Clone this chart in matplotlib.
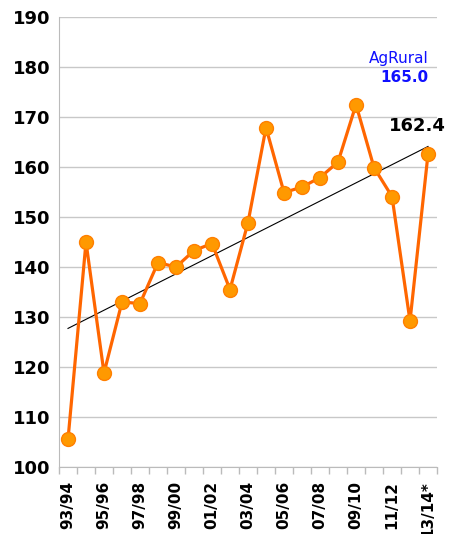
import numpy as np
import matplotlib.pyplot as plt

# safra (season) labels and values
seasons = ['93/94', '94/95', '95/96', '96/97', '97/98', '98/99', '99/00',
           '00/01', '01/02', '02/03', '03/04', '04/05', '05/06', '06/07',
           '07/08', '08/09', '09/10', '10/11', '11/12', '12/13', '13/14*']
values = [105.5, 145.0, 118.8, 133.0, 132.7, 140.9, 140.0,
          143.3, 144.7, 135.5, 148.9, 167.9, 154.9, 156.0,
          157.9, 161.0, 172.5, 159.9, 154.1, 129.2, 162.6]
last_label = '162.4'
agrural_value = '165.0'

x = np.arange(len(seasons))

fig = plt.figure(figsize=(4.49, 5.34), dpi=100)
ax = fig.add_axes([0.1314, 0.1255, 0.9733 - 0.1314, 0.968 - 0.1255])

# trend line
coef = np.polyfit(x, values, 1)
ax.plot(x, np.polyval(coef, x), color='black', lw=0.8, zorder=3)

ax.plot(x, values, color='#FF6600', lw=2.3, marker='o', markersize=10,
        markerfacecolor='#FF9900', markeredgecolor='#FF7F00',
        markeredgewidth=1, zorder=4)

ax.set_ylim(100, 190)
ax.set_yticks(np.arange(100, 191, 10))
ax.set_xlim(-0.5, len(seasons) - 0.5)
ax.set_xticks(x[::2])
ax.set_xticklabels(seasons[::2], rotation=90, fontsize=11, fontweight='bold',
                   va='top')
ax.set_xticks(np.arange(-0.5, len(seasons)), minor=True)
ax.tick_params(axis='x', which='major', length=0, pad=10)
ax.tick_params(axis='x', which='minor', length=5, color='#BBBBBB', width=1)
ax.tick_params(axis='y', length=0, labelsize=13, pad=6)
for t in ax.get_yticklabels():
    t.set_fontweight('bold')

ax.grid(axis='y', color='#C8C8C8', lw=1)
ax.set_axisbelow(True)
for s in ['top', 'right']:
    ax.spines[s].set_visible(False)
for s in ['left', 'bottom']:
    ax.spines[s].set_color('#BBBBBB')

ax.text(20.05, 181.8, 'AgRural', color='#1010FF', fontsize=11, ha='right', va='center')
ax.text(20.05, 178.0, agrural_value, color='#1010FF', fontsize=11,
        fontweight='bold', ha='right', va='center')
ax.text(19.4, 168.2, last_label, color='black', fontsize=13,
        fontweight='bold', ha='center', va='center')

fig.savefig('out.png', dpi=100)
